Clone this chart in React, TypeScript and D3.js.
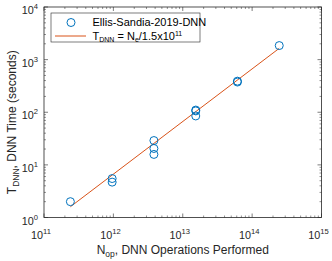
import React from 'react';
import * as d3 from 'd3';

// Ellis-Sandia-2019-DNN runs: operations performed vs. time
const opsPerformed = [2.4e11, 9.6e11, 9.6e11, 3.84e12, 3.84e12, 3.84e12, 1.54e13, 1.54e13, 1.54e13, 6.14e13, 6.14e13, 2.46e14];
const dnnTimes = [2.0, 5.5, 4.7, 29, 20.5, 15.8, 110, 106, 85, 390, 375, 1850];
const fitRate = 1.5e11;
const xTicks = [11, 12, 13, 14, 15];
const yTicks = [0, 1, 2, 3, 4];

const W = 332;
const H = 261;
const margin = { top: 7, right: 10.5, bottom: 43.5, left: 44 };
const blue = '#0072BD';
const orange = '#D95319';
const axisColor = '#262626';
const font = '"Liberation Sans", Arial, sans-serif';

const Pow10: React.FC<{ x: number; y: number; e: number; anchor: string }> = ({ x, y, e, anchor }) => (
  <text x={x} y={y} textAnchor={anchor} fontSize={10.8} fill={axisColor} fontFamily={font}>
    10<tspan dy={-5} fontSize={7.6}>{e}</tspan>
  </text>
);

export default function App() {
  const iw = W - margin.left - margin.right;
  const ih = H - margin.top - margin.bottom;
  const x = d3.scaleLog().domain([1e11, 1e15]).range([margin.left, margin.left + iw]);
  const y = d3.scaleLog().domain([1, 1e4]).range([margin.top + ih, margin.top]);

  const minorX: number[] = [];
  for (let e = 11; e < 15; e++) for (let k = 2; k <= 9; k++) minorX.push(k * Math.pow(10, e));
  const minorY: number[] = [];
  for (let e = 0; e < 4; e++) for (let k = 2; k <= 9; k++) minorY.push(k * Math.pow(10, e));

  const x0 = d3.min(opsPerformed) as number;
  const x1 = d3.max(opsPerformed) as number;
  const fitLine = d3.line<number>().x(d => x(d)).y(d => y(d / fitRate));

  const left = margin.left, right = margin.left + iw, top = margin.top, bottom = margin.top + ih;
  const majLen = 4, minLen = 2;

  return (
    <svg width={W} height={H} style={{ position: 'absolute', left: 0, top: 0, background: '#fff' }}>
      <rect x={left} y={top} width={iw} height={ih} fill="#fff" />
      {/* fit line */}
      <path d={fitLine([x0, x1]) || ''} fill="none" stroke={orange} strokeWidth={1} />
      {/* data */}
      {opsPerformed.map((v, i) => (
        <circle key={i} cx={x(v)} cy={y(dnnTimes[i])} r={4} fill="none" stroke={blue} strokeWidth={1} />
      ))}
      {/* box */}
      <rect x={left} y={top} width={iw} height={ih} fill="none" stroke={axisColor} strokeWidth={0.8} />
      {/* ticks */}
      {xTicks.map(e => {
        const px = x(Math.pow(10, e));
        return (
          <g key={'xt' + e}>
            <line x1={px} x2={px} y1={bottom} y2={bottom - majLen} stroke={axisColor} strokeWidth={0.6} />
            <line x1={px} x2={px} y1={top} y2={top + majLen} stroke={axisColor} strokeWidth={0.6} />
            <Pow10 x={px - 3} y={bottom + 21} e={e} anchor="middle" />
          </g>
        );
      })}
      {minorX.map((v, i) => (
        <g key={'xm' + i}>
          <line x1={x(v)} x2={x(v)} y1={bottom} y2={bottom - minLen} stroke={axisColor} strokeWidth={0.5} />
          <line x1={x(v)} x2={x(v)} y1={top} y2={top + minLen} stroke={axisColor} strokeWidth={0.5} />
        </g>
      ))}
      {yTicks.map(e => {
        const py = y(Math.pow(10, e));
        return (
          <g key={'yt' + e}>
            <line x1={left} x2={left + majLen} y1={py} y2={py} stroke={axisColor} strokeWidth={0.6} />
            <line x1={right} x2={right - majLen} y1={py} y2={py} stroke={axisColor} strokeWidth={0.6} />
            <Pow10 x={left - 6} y={py + 7} e={e} anchor="end" />
          </g>
        );
      })}
      {minorY.map((v, i) => (
        <g key={'ym' + i}>
          <line x1={left} x2={left + minLen} y1={y(v)} y2={y(v)} stroke={axisColor} strokeWidth={0.5} />
          <line x1={right} x2={right - minLen} y1={y(v)} y2={y(v)} stroke={axisColor} strokeWidth={0.5} />
        </g>
      ))}
      {/* axis labels */}
      <text x={(left + right) / 2} y={253.5} textAnchor="middle" fontSize={12} fill={axisColor} fontFamily={font}>
        N<tspan dy={3.5} fontSize={8.5}>op</tspan><tspan dy={-3.5}>, DNN Operations Performed</tspan>
      </text>
      <text transform={`translate(15.5,${(top + bottom) / 2 + 10}) rotate(-90)`} textAnchor="middle" fontSize={12} fill={axisColor} fontFamily={font}>
        T<tspan dy={3.5} fontSize={8.5}>DNN</tspan><tspan dy={-3.5}>, DNN Time (seconds)</tspan>
      </text>
      {/* legend */}
      <g>
        <rect x={51} y={13} width={149} height={29} fill="#fff" stroke={axisColor} strokeWidth={0.6} />
        <circle cx={71} cy={22.5} r={4} fill="none" stroke={blue} strokeWidth={1} />
        <text x={92.5} y={26} fontSize={11} fill="#000" fontFamily={font}>Ellis-Sandia-2019-DNN</text>
        <line x1={55} x2={86} y1={36} y2={36} stroke={orange} strokeWidth={1} />
        <text x={92.5} y={39.5} fontSize={11} fill="#000" fontFamily={font}>
          T<tspan dy={2.5} fontSize={7}>DNN</tspan><tspan dy={-2.5}> = N</tspan><tspan dy={2.5} fontSize={7}>e</tspan><tspan dy={-2.5}>/1.5x10</tspan><tspan dy={-4} fontSize={7}>11</tspan>
        </text>
      </g>
    </svg>
  );
}
